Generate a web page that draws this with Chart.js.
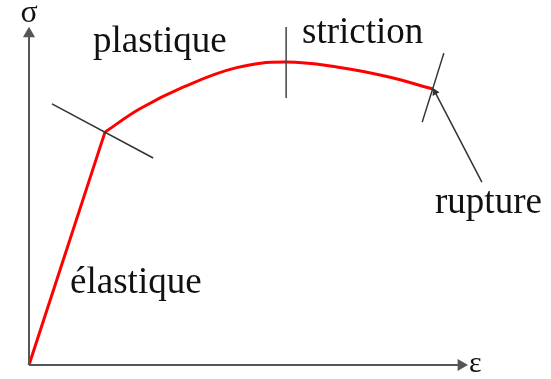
<!DOCTYPE html>
<html>
<head>
<meta charset="utf-8">
<script src="https://cdn.jsdelivr.net/npm/chart.js@4"></script>
<style>
  html, body { margin: 0; padding: 0; background: #fff; }
  canvas { display: block; }
</style>
</head>
<body>
<canvas id="stressChart" width="551" height="379"></canvas>
<script>
// strain (x) / stress (y), arbitrary units
const elasticX = [0, 17.2];
const elasticY = [0, 67.5];
const plasticX = [17.2, 25.0, 35.0, 47.0, 58.0, 70.0, 81.0, 91.4];
const plasticY = [67.5, 74.2, 80.6, 86.2, 87.8, 86.3, 83.6, 80.0];

// marker lines
const yieldMarkX = [5.2, 28.1];
const yieldMarkY = [75.7, 60.0];
const neckMarkX = [58.2, 58.2];
const neckMarkY = [98.0, 77.4];
const breakMarkX = [93.9, 89.0];
const breakMarkY = [90.4, 70.4];
const pointerX = [91.9, 102.5];
const pointerY = [79.1, 53.0];

// axes
const axisXEnd = 97.8;
const axisYEnd = 96.0;

const labels = ['σ', 'plastique', 'striction', 'rupture', 'élastique', 'ε'];

const toPts = (xs, ys) => xs.map((x, i) => ({ x: x, y: ys[i] }));

const lineSet = (data, color, width, extra) => Object.assign({
    data: data,
    borderColor: color,
    backgroundColor: color,
    borderWidth: width,
    pointRadius: 0,
    tension: 0,
    clip: false
}, extra || {});

const textPlugin = {
    id: 'texts',
    afterDatasetsDraw(chart) {
        const ctx = chart.ctx;
        const x = chart.scales.x;
        const y = chart.scales.y;
        ctx.save();
        ctx.fillStyle = '#111';
        ctx.textBaseline = 'alphabetic';
        ctx.font = '32px "Liberation Serif"';
        ctx.textAlign = 'center';
        ctx.fillText(labels[0], x.getPixelForValue(0), y.getPixelForValue(99.4));
        ctx.textAlign = 'left';
        ctx.font = '37px "Liberation Serif"';
        ctx.fillText(labels[1], x.getPixelForValue(14.5), y.getPixelForValue(90.8));
        ctx.fillText(labels[2], x.getPixelForValue(61.8), y.getPixelForValue(93.3));
        ctx.fillText(labels[3], x.getPixelForValue(91.9), y.getPixelForValue(44.1));
        ctx.fillText(labels[4], x.getPixelForValue(9.3), y.getPixelForValue(20.9));
        ctx.font = '30px "Liberation Serif"';
        ctx.fillText(labels[5], x.getPixelForValue(99.6), y.getPixelForValue(-2.0));
        ctx.restore();
    }
};

const ctx = document.getElementById('stressChart').getContext('2d');
const stressChart = new Chart(ctx, {
    type: 'line',
    data: {
        datasets: [
            lineSet([{ x: 0, y: 0 }, { x: axisXEnd, y: 0 }], '#555', 2,
                { pointStyle: 'triangle', pointRadius: [0, 5], pointRotation: 90 }),
            lineSet([{ x: 0, y: 0 }, { x: 0, y: axisYEnd }], '#555', 2,
                { pointStyle: 'triangle', pointRadius: [0, 5] }),
            lineSet(toPts(yieldMarkX, yieldMarkY), '#333', 1.5),
            lineSet(toPts(neckMarkX, neckMarkY), '#444', 1.5),
            lineSet(toPts(breakMarkX, breakMarkY), '#333', 1.5),
            lineSet(toPts(pointerX, pointerY), '#333', 1.5,
                { pointStyle: 'triangle', pointRadius: [3, 0], pointRotation: -27.6 }),
            lineSet(toPts(elasticX, elasticY), '#f00', 3),
            lineSet(toPts(plasticX, plasticY), '#f00', 3, { tension: 0.4 })
        ]
    },
    options: {
        responsive: false,
        animation: false,
        layout: { padding: { left: 29, top: 20, right: 36, bottom: 14 } },
        scales: {
            x: { type: 'linear', min: 0, max: 110, display: false },
            y: { type: 'linear', min: 0, max: 100, display: false }
        },
        plugins: {
            legend: { display: false },
            tooltip: { enabled: false }
        }
    },
    plugins: [textPlugin]
});
</script>
</body>
</html>
